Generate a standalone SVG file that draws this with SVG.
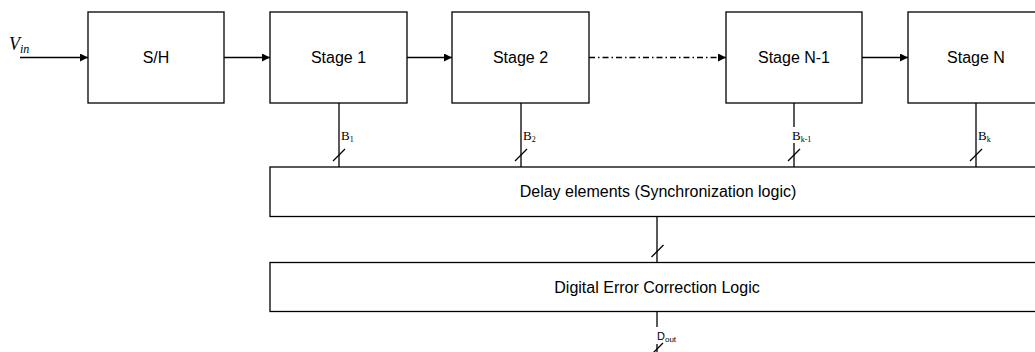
<svg xmlns="http://www.w3.org/2000/svg" width="1035" height="352" viewBox="0 0 1035 352">
  <defs>
    <marker id="head" markerUnits="userSpaceOnUse" markerWidth="9" markerHeight="9" refX="8" refY="4" orient="auto">
      <path d="M0,0 L8,4 L0,8 z" fill="#000"/>
    </marker>
    <style>
      .box { fill: #fff; stroke: #000; stroke-width: 1.3; }
      .lbl { font-family: "Liberation Sans", Arial, sans-serif; font-size: 16px; fill: #000; text-anchor: middle; }
      .wire { fill: none; stroke: #000; stroke-width: 1.3; }
      .arrow { fill: none; stroke: #000; stroke-width: 1.3; marker-end: url(#head); }
      .dashdot { stroke-dasharray: 6 3 1.5 3; }
      .bus { font-family: "Liberation Serif", "Times New Roman", serif; font-size: 13px; fill: #000; }
      .sub { font-size: 8px; }
    </style>
  </defs>

  <!-- signal path and bus connectors -->
  <g id="connectors">
    <line class="arrow" x1="20" y1="57.5" x2="88" y2="57.5"/>
    <line class="arrow" x1="224" y1="57.5" x2="270" y2="57.5"/>
    <line class="arrow" x1="407" y1="57.5" x2="452" y2="57.5"/>
    <line class="arrow dashdot" x1="589" y1="57.5" x2="726" y2="57.5"/>
    <line class="arrow" x1="862" y1="57.5" x2="908" y2="57.5"/>

    <!-- stage output bits to the delay elements -->
    <line class="wire" x1="339" y1="103" x2="339" y2="167"/>
    <line class="wire" x1="521" y1="103" x2="521" y2="167"/>
    <line class="wire" x1="794" y1="103" x2="794" y2="167"/>
    <line class="wire" x1="976" y1="103" x2="976" y2="167"/>
    <line class="wire" x1="333" y1="161" x2="345" y2="149"/>
    <line class="wire" x1="515" y1="161" x2="527" y2="149"/>
    <line class="wire" x1="788" y1="161" x2="800" y2="149"/>
    <line class="wire" x1="970" y1="161" x2="982" y2="149"/>

    <!-- delay elements to error correction -->
    <line class="wire" x1="657" y1="216.5" x2="657" y2="262.5"/>
    <line class="wire" x1="651.5" y1="257" x2="663.5" y2="245"/>

    <!-- digital output -->
    <line class="wire" x1="657" y1="311.5" x2="657" y2="327"/>
    <line class="wire" x1="657" y1="344" x2="657" y2="352"/>
    <line class="wire" x1="651" y1="355" x2="663" y2="343"/>
  </g>

  <!-- bus labels -->
  <g id="bus-labels">
    <text class="bus" x="341" y="140">B<tspan class="sub" dy="2">1</tspan></text>
    <text class="bus" x="523" y="140">B<tspan class="sub" dy="2">2</tspan></text>
    <rect x="791" y="127" width="22" height="16" fill="#fff"/>
    <text class="bus" x="792" y="140">B<tspan class="sub" dy="2">k-1</tspan></text>
    <text class="bus" x="978" y="140">B<tspan class="sub" dy="2">k</tspan></text>
    <text x="657" y="340" font-family="Liberation Sans, Arial, sans-serif" font-size="11" fill="#000">D<tspan font-size="8" dy="2">out</tspan></text>
  </g>

  <g id="vin">
    <text x="9" y="50" font-family="Liberation Serif, Times New Roman, serif" font-style="italic" font-size="18" fill="#000">V<tspan font-size="12" dy="3">in</tspan></text>
  </g>

  <g id="sh">
    <rect class="box" x="88" y="12" width="136" height="91"/>
    <text class="lbl" x="156" y="63">S/H</text>
  </g>
  <g id="stage1">
    <rect class="box" x="270" y="12" width="137" height="91"/>
    <text class="lbl" x="338.5" y="63">Stage 1</text>
  </g>
  <g id="stage2">
    <rect class="box" x="452" y="12" width="137" height="91"/>
    <text class="lbl" x="520.5" y="63">Stage 2</text>
  </g>
  <g id="stageN-1">
    <rect class="box" x="726" y="12" width="136" height="91"/>
    <text class="lbl" x="794" y="63">Stage N-1</text>
  </g>
  <g id="stageN">
    <rect class="box" x="908" y="12" width="137" height="91"/>
    <text class="lbl" x="976" y="63">Stage N</text>
  </g>

  <g id="delay">
    <rect class="box" x="270" y="167" width="776" height="49.5"/>
    <text class="lbl" x="658" y="197">Delay elements (Synchronization logic)</text>
  </g>
  <g id="dec">
    <rect class="box" x="270" y="262.5" width="776" height="49"/>
    <text class="lbl" x="657" y="292.5">Digital Error Correction Logic</text>
  </g>
</svg>
